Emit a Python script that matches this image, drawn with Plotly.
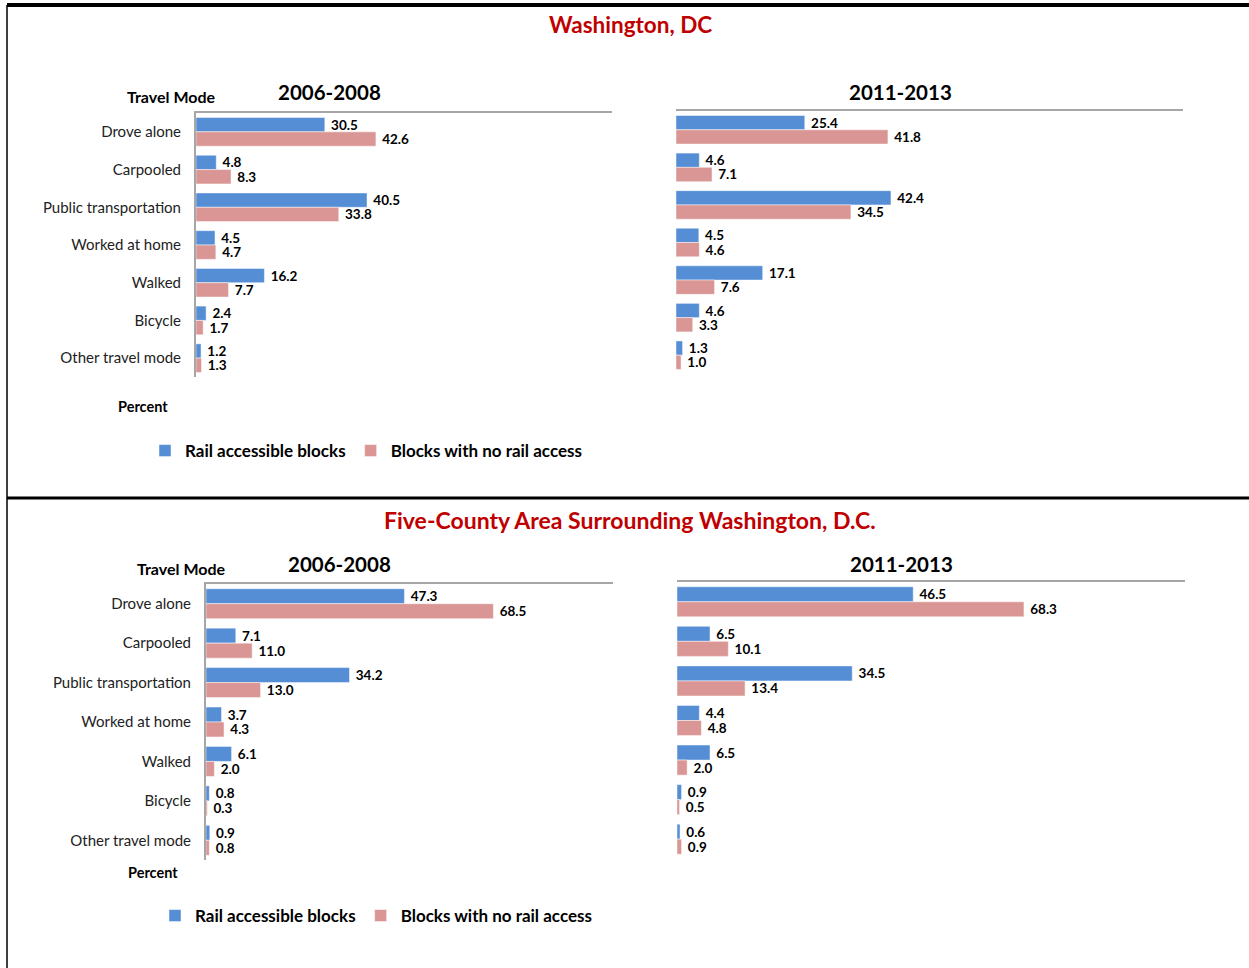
import plotly.graph_objects as go

modes = ["Drove alone", "Carpooled", "Public transportation", "Worked at home",
         "Walked", "Bicycle", "Other travel mode"]

dc_0608_rail = [30.5, 4.8, 40.5, 4.5, 16.2, 2.4, 1.2]
dc_0608_norail = [42.6, 8.3, 33.8, 4.7, 7.7, 1.7, 1.3]
dc_1113_rail = [25.4, 4.6, 42.4, 4.5, 17.1, 4.6, 1.3]
dc_1113_norail = [41.8, 7.1, 34.5, 4.6, 7.6, 3.3, 1.0]

fc_0608_rail = [47.3, 7.1, 34.2, 3.7, 6.1, 0.8, 0.9]
fc_0608_norail = [68.5, 11.0, 13.0, 4.3, 2.0, 0.3, 0.8]
fc_1113_rail = [46.5, 6.5, 34.5, 4.4, 6.5, 0.9, 0.6]
fc_1113_norail = [68.3, 10.1, 13.4, 4.8, 2.0, 0.5, 0.9]

BLUE = "#558ED5"
PINK = "#D99694"
RED = "#C00000"
FONT = "Lato"
W, H = 1249, 968


def px_x(v):
    return v / W


def px_y(v):
    return 1 - v / H


fig = go.Figure()

panels = [
    ("x", "y", dc_0608_rail, dc_0608_norail, True, "legend"),
    ("x2", "y2", dc_1113_rail, dc_1113_norail, False, "legend"),
    ("x3", "y3", fc_0608_rail, fc_0608_norail, True, "legend2"),
    ("x4", "y4", fc_1113_rail, fc_1113_norail, False, "legend2"),
]

for xa, ya, rail, norail, show, leg in panels:
    for name, vals, col in [("Rail accessible blocks", rail, BLUE),
                            ("Blocks with no rail access", norail, PINK)]:
        fig.add_trace(go.Bar(
            y=modes, x=vals, orientation="h", name=name,
            marker=dict(color=col, line=dict(color="rgba(255,255,255,0.6)", width=0.8)),
            texttemplate=" %{x:.1f}", textposition="outside", constraintext="none",
            textfont=dict(family=FONT, size=13.5, color="black", weight="bold"),
            cliponaxis=False, xaxis=xa, yaxis=ya,
            showlegend=show, legend=leg,
        ))

axis_common = dict(showgrid=False, zeroline=False, ticks="", showticklabels=False)
line_col = "#A6A6A6"


def xaxis(dom, rng):
    return dict(domain=dom, range=rng, side="top", showline=True, linecolor=line_col,
                linewidth=2, fixedrange=True, **axis_common)


def yaxis(dom, labels, anchor):
    d = dict(domain=dom, range=[6.5, -0.5], type="category", showgrid=False,
             zeroline=False, ticks="", anchor=anchor)
    if labels:
        d.update(showticklabels=True, showline=True, linecolor=line_col, linewidth=2,
                 tickfont=dict(family=FONT, size=15, color="#222"), ticklabelstandoff=10)
    else:
        d.update(showticklabels=False, showline=False)
    return d


legend_font = dict(family=FONT, size=17, color="black", weight="bold")

fig.update_layout(
    width=W, height=H,
    margin=dict(l=0, r=0, t=0, b=0),
    paper_bgcolor="white", plot_bgcolor="white",
    barmode="group", bargap=0.24, bargroupgap=0,
    font=dict(family=FONT),
    xaxis=xaxis([px_x(196), px_x(612)], [0, 98.5]),
    yaxis=yaxis([px_y(377), px_y(113)], True, "x"),
    xaxis2=dict(xaxis([px_x(676), px_x(1183)], [0, 100]), anchor="y2"),
    yaxis2=yaxis([px_y(374), px_y(111)], False, "x2"),
    xaxis3=dict(xaxis([px_x(206), px_x(613)], [0, 97]), anchor="y3"),
    yaxis3=yaxis([px_y(860), px_y(584)], True, "x3"),
    xaxis4=dict(xaxis([px_x(677), px_x(1185)], [0, 100]), anchor="y4"),
    yaxis4=yaxis([px_y(859), px_y(582)], False, "x4"),
    legend=dict(orientation="h", x=px_x(145), y=px_y(451), xanchor="left", yanchor="middle",
                font=legend_font, itemwidth=30, traceorder="normal"),
    legend2=dict(orientation="h", x=px_x(155), y=px_y(916), xanchor="left", yanchor="middle",
                 font=legend_font, itemwidth=30, traceorder="normal"),
)

notes = [
    ("Washington, DC", 630, 25, 22.5, RED),
    ("2006-2008", 329, 92, 20.5, "black"),
    ("2011-2013", 900, 92, 20.5, "black"),
    ("Travel Mode", 171, 97, 16, "black"),
    ("Percent", 143, 407, 14.5, "black"),
    ("Five-County Area Surrounding Washington, D.C.", 630, 520, 23, RED),
    ("2006-2008", 339, 564, 20.5, "black"),
    ("2011-2013", 901, 564, 20.5, "black"),
    ("Travel Mode", 181, 568, 16, "black"),
    ("Percent", 153, 872, 14.5, "black"),
]
for text, x, y, size, col in notes:
    fig.add_annotation(text=text, x=px_x(x), y=px_y(y), xref="paper", yref="paper",
                       showarrow=False, xanchor="center", yanchor="middle",
                       font=dict(family=FONT, size=size, color=col, weight="bold"))

# frame lines
fig.add_shape(type="line", xref="paper", yref="paper", x0=px_x(7), x1=1,
              y0=px_y(5), y1=px_y(5), line=dict(color="black", width=4))
fig.add_shape(type="line", xref="paper", yref="paper", x0=px_x(7), x1=px_x(7),
              y0=px_y(5), y1=0, line=dict(color="black", width=1.5))
fig.add_shape(type="line", xref="paper", yref="paper", x0=px_x(7), x1=1,
              y0=px_y(498), y1=px_y(498), line=dict(color="black", width=3))

# page body has a default margin; drop it so the figure fills the window
fig.write_html("out.html", config={"displayModeBar": False},
               post_script="document.body.style.margin = '0px';")
